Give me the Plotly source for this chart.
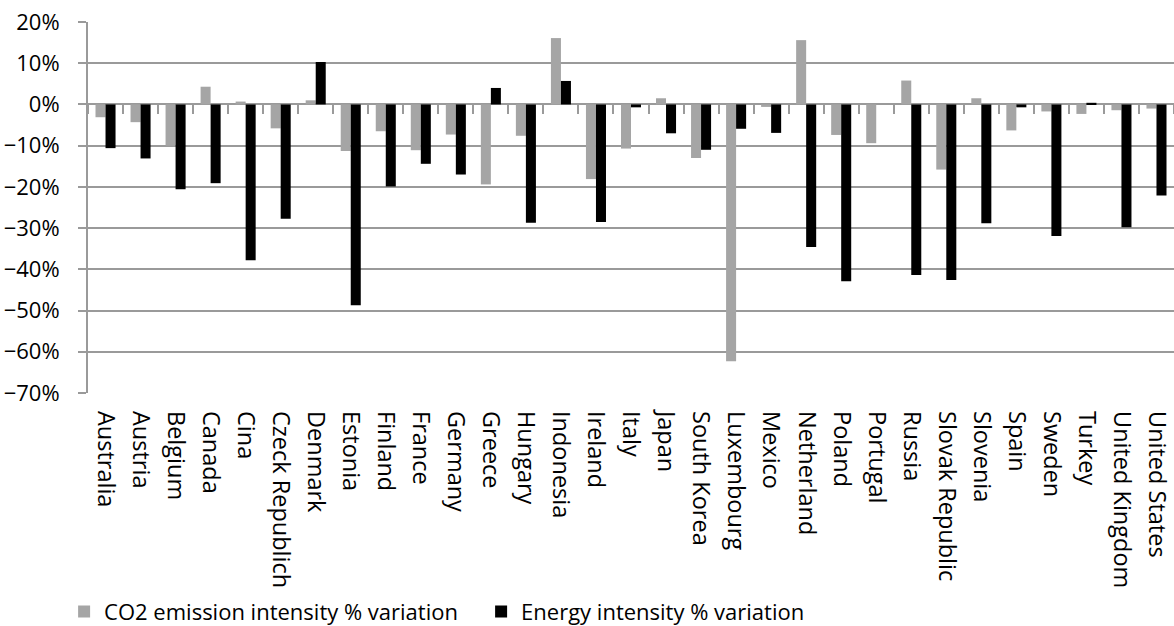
import plotly.graph_objects as go

countries = [
    "Australia", "Austria", "Belgium", "Canada", "Cina", "Czeck Republich",
    "Denmark", "Estonia", "Finland", "France", "Germany", "Greece", "Hungary",
    "Indonesia", "Ireland", "Italy", "Japan", "South Korea", "Luxembourg",
    "Mexico", "Netherland", "Poland", "Portugal", "Russia", "Slovak Republic",
    "Slovenia", "Spain", "Sweden", "Turkey", "United Kingdom", "United States",
]

# percentage variations (fractions)
co2_intensity = [
    -0.031, -0.043, -0.100, 0.043, 0.007, -0.058,
    0.010, -0.113, -0.065, -0.111, -0.073, -0.194, -0.076,
    0.161, -0.181, -0.107, 0.015, -0.130, -0.623,
    -0.006, 0.156, -0.074, -0.094, 0.058, -0.158,
    0.015, -0.063, -0.017, -0.023, -0.014, -0.010,
]
energy_intensity = [
    -0.106, -0.131, -0.206, -0.191, -0.378, -0.277,
    0.103, -0.487, -0.199, -0.144, -0.170, 0.040, -0.287,
    0.057, -0.285, -0.007, -0.070, -0.110, -0.059,
    -0.069, -0.346, -0.429, 0.000, -0.414, -0.426,
    -0.288, -0.007, -0.319, 0.004, -0.298, -0.221,
]

GRID = "#9a9a9a"
FONT = "Open Sans"
BAR_W = 0.286

fig = go.Figure()
# gray bars sit left of each category centre, black bars right of it;
# the black series lives on an overlaid axis that carries the zero-line ticks
fig.add_trace(go.Bar(
    x=countries, y=co2_intensity,
    name="CO2 emission intensity % variation",
    width=BAR_W, offset=-BAR_W,
    marker=dict(color="#a5a5a5", line=dict(width=0)),
))
fig.add_trace(go.Bar(
    x=countries, y=energy_intensity, xaxis="x2",
    name="Energy intensity % variation",
    width=BAR_W, offset=0,
    marker=dict(color="#000000", line=dict(width=0)),
))

n = len(countries)
fig.update_layout(
    width=1174, height=626,
    margin=dict(l=88, r=0, t=22, b=233, autoexpand=False),
    paper_bgcolor="white", plot_bgcolor="white",
    font=dict(family=FONT, size=22, color="#000000"),
    barmode="overlay",
    showlegend=True,
    legend=dict(
        orientation="h", x=-0.022, xanchor="left", y=-0.533, yanchor="top",
        font=dict(size=22), entrywidth=372, entrywidthmode="pixels",
    ),
    xaxis=dict(
        type="category", categoryorder="array", categoryarray=countries,
        range=[-0.5, n - 0.5], automargin=False,
        tickangle=90, ticks="", showgrid=False, showline=False,
        ticklabelstandoff=17, zeroline=False,
        tickfont=dict(size=23.5),
    ),
    xaxis2=dict(
        type="category", categoryorder="array", categoryarray=countries,
        overlaying="x", anchor="free", position=70 / 90, automargin=False,
        range=[-0.5, n - 0.5], showgrid=False, showline=False,
        zeroline=False, showticklabels=False, tickson="boundaries",
        ticks="outside", ticklen=9, tickwidth=2, tickcolor=GRID,
    ),
    yaxis=dict(
        range=[-0.70, 0.20], dtick=0.1, tick0=0, tickformat=".0%",
        automargin=False,
        showgrid=True, gridcolor=GRID, gridwidth=2,
        zeroline=True, zerolinecolor=GRID, zerolinewidth=2,
        showline=True, linecolor=GRID, linewidth=2,
        ticks="outside", ticklen=8, tickwidth=2, tickcolor=GRID,
        ticklabelstandoff=14,
    ),
)

fig.write_html("out.html")
